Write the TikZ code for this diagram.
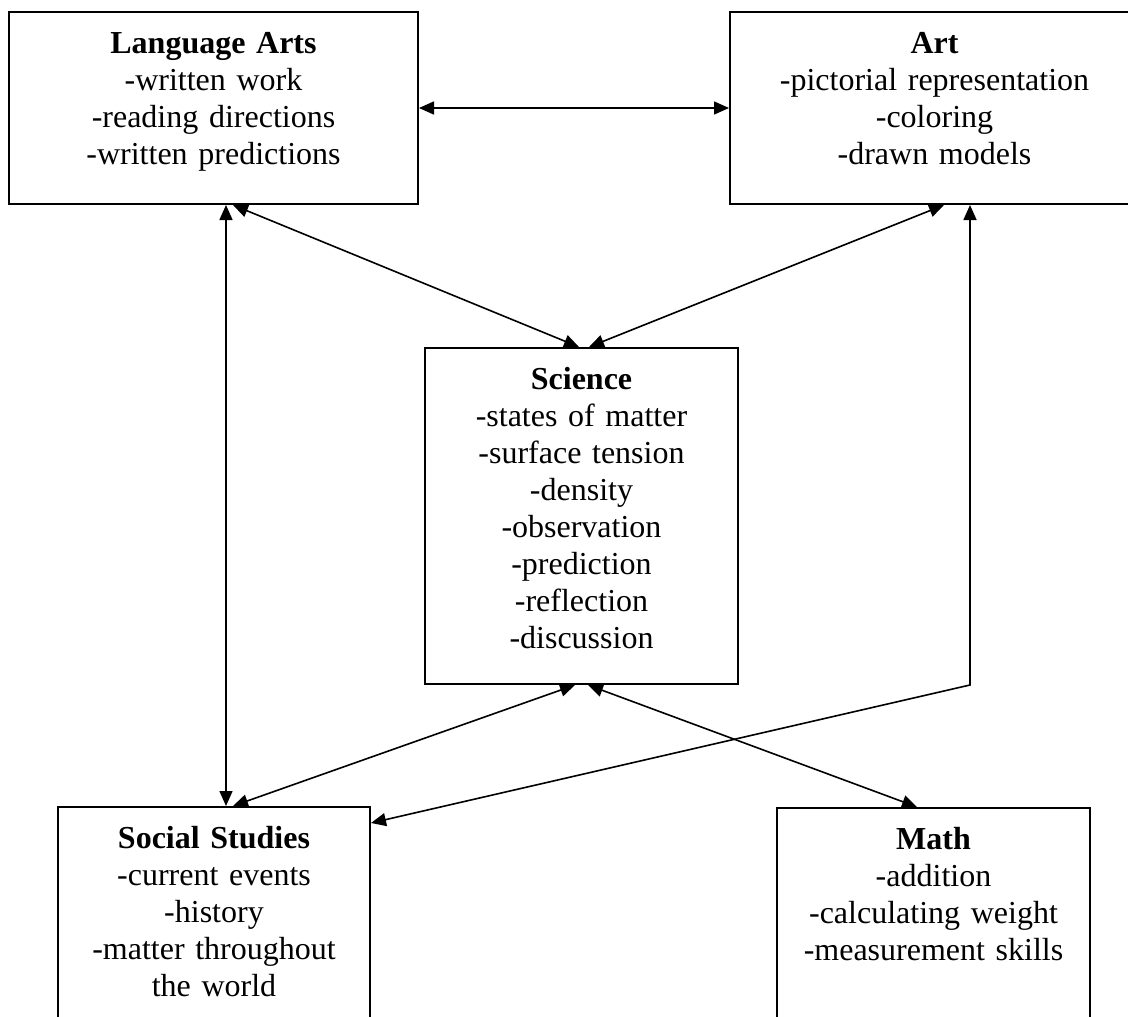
\documentclass[tikz,border=0pt]{standalone}
\usepackage{fontspec}
\setmainfont{Liberation Serif}
\usetikzlibrary{arrows.meta}

\tikzset{
  subject/.style={draw, line width=2pt, inner sep=0pt, align=center, anchor=north west,
    text height=41pt, font=\fontsize{32}{37}\selectfont},
  link/.style={line width=1.6pt, >={Triangle[length=15pt,width=13pt]}, <->}
}

\begin{document}
\begin{tikzpicture}[x=1pt,y=-1pt]
 \useasboundingbox (0,0) rectangle (1128,1017);
 \clip (0,0) rectangle (1128,1017);
 % subject boxes
 \node[subject, text width=409pt, text depth=151pt] (lang) at (8,11)
   {\textbf{Language Arts}\\-written work\\-reading directions\\-written predictions};
 \node[subject, text width=409pt, text depth=151pt] (art) at (729,11)
   {\textbf{Art}\\-pictorial representation\\-coloring\\-drawn models};
 \node[subject, text width=313pt, text depth=295pt] (sci) at (424,347)
   {\textbf{Science}\\-states of matter\\-surface tension\\-density\\-observation\\-prediction\\-reflection\\-discussion};
 \node[subject, text width=312pt, text depth=199pt] (soc) at (57,806)
   {\textbf{Social Studies}\\-current events\\-history\\-matter throughout\\the world};
 \node[subject, text width=313pt, text depth=199pt] (math) at (776,807)
   {\textbf{Math}\\-addition\\-calculating weight\\-measurement skills};

 % straight links
 \foreach \a/\sa/\b/\sb in {lang.east/0/art.west/0,
                            lang.south/19.5/sci.north/-2.5,
                            art.south/9.5/sci.north/7.5,
                            lang.south/12.5/soc.north/12,
                            sci.south/-6.5/soc.north/19,
                            sci.south/6.5/math.north/-16.5}
 {
   \draw[link] ([xshift=\sa pt]\a) -- ([xshift=\sb pt]\b);
 }

 % art down and across to social studies
 \coordinate (artfoot) at ([xshift=35.5pt]art.south);
 \draw[link] (artfoot) -- (artfoot |- sci.south) -- ([yshift=-17pt]soc.north east);
\end{tikzpicture}
\end{document}
